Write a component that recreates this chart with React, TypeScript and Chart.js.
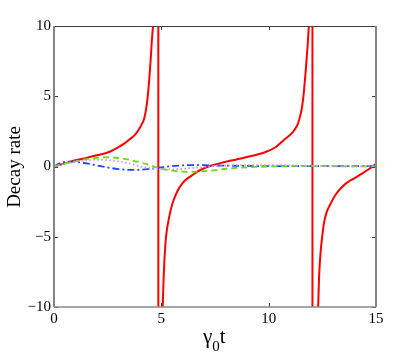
import React, { useEffect, useRef } from "react";
import { Chart, registerables } from "chart.js";

Chart.register(...registerables);

// ---- data ----
const xTickValues = [0, 5, 10, 15];
const yTickValues = [-10, -5, 0, 5, 10];

const redT = [0, 0.5, 1.0, 1.5, 2.0, 2.5, 3.0, 3.3, 3.5, 3.8, 4.0, 4.1, 4.2, 4.33, 4.41, 4.49, 4.56, 4.64, 4.72, 4.86, 4.86, 5.0, 5.06, 5.11, 5.19, 5.26, 5.34, 5.45, 5.57, 5.72, 5.89, 6.1, 6.36, 6.6, 6.82, 7.3, 7.9, 8.5, 9.2, 9.8, 10.3, 10.72, 11.0, 11.2, 11.35, 11.46, 11.55, 11.62, 11.73, 11.81, 11.88, 11.95, 12.04, 12.04, 12.2, 12.3, 12.35, 12.43, 12.5, 12.58, 12.7, 12.9, 13.1, 13.36, 13.65, 13.99, 14.3, 14.61, 15];
const redRate = [0, 0.22, 0.44, 0.61, 0.8, 1.0, 1.38, 1.66, 1.9, 2.3, 2.75, 3.05, 3.4, 4.5, 5.7, 7.3, 9.0, 10.5, 14, 60, -60, -14, -10.3, -7.8, -5.5, -4.5, -3.8, -3.0, -2.4, -1.85, -1.4, -1.0, -0.7, -0.45, -0.25, 0.05, 0.3, 0.5, 0.75, 1.0, 1.35, 1.9, 2.25, 2.6, 3.0, 3.55, 4.2, 5.0, 6.9, 8.5, 10.2, 14, 60, -60, -14, -10.2, -7.8, -5.9, -4.9, -4.0, -3.25, -2.6, -2.05, -1.55, -1.15, -0.84, -0.55, -0.25, 0.2];

const greenT = [0, 0.5, 1, 1.5, 2, 2.5, 3, 3.5, 4, 4.5, 5, 5.5, 6, 6.5, 7, 7.5, 8, 8.5, 9, 10, 11, 12, 13, 14, 15];
const greenRate = [0, 0.2, 0.36, 0.52, 0.62, 0.66, 0.6, 0.48, 0.3, 0.08, -0.17, -0.3, -0.36, -0.38, -0.33, -0.26, -0.16, -0.1, -0.06, 0, 0.02, 0.03, 0.02, 0.01, 0];

const blueT = [0, 0.3, 0.6, 0.9, 1.2, 1.6, 2, 2.5, 3, 3.5, 4, 4.5, 5, 5.5, 6, 6.5, 7, 8, 9, 10, 11, 12, 13, 14, 15];
const blueRate = [0, 0.25, 0.34, 0.35, 0.3, 0.2, 0.08, -0.07, -0.18, -0.24, -0.23, -0.16, -0.06, 0.03, 0.08, 0.1, 0.09, 0.06, 0.04, 0.03, 0.03, 0.03, 0.02, 0.02, 0.02];

const violetT = [0, 0.5, 1, 1.5, 2, 2.5, 3, 3.5, 4, 4.5, 5, 5.5, 6, 6.5, 7, 7.5, 8, 9, 10, 11, 12, 13, 14, 15];
const violetRate = [0, 0.2, 0.36, 0.44, 0.47, 0.45, 0.36, 0.22, 0.02, -0.14, -0.2, -0.2, -0.16, -0.1, -0.03, 0.03, 0.07, 0.1, 0.1, 0.08, 0.04, 0.02, 0.01, 0.01];

const xTitleMain = "γ";
const xTitleSub = "0";
const xTitleEnd = "t";
const yTitle = "Decay rate";

const SERIF = '"Liberation Serif", "Times New Roman", Times, serif';

const pts = (xs: number[], ys: number[]) => xs.map((x, i) => ({ x, y: ys[i] }));

const framePlugin = {
  id: "frame",
  afterDatasetsDraw(chart: any) {
    const { ctx, chartArea, scales } = chart;
    const { left, right, top, bottom } = chartArea;
    const xs = scales.x;
    const ys = scales.y;
    ctx.save();
    // inward ticks
    ctx.strokeStyle = "#404040";
    ctx.lineWidth = 1;
    ctx.beginPath();
    xTickValues.forEach((v) => {
      const px = Math.round(xs.getPixelForValue(v)) + 0.5;
      ctx.moveTo(px, bottom);
      ctx.lineTo(px, bottom - 4);
      ctx.moveTo(px, top);
      ctx.lineTo(px, top + 4);
    });
    yTickValues.forEach((v) => {
      const py = Math.round(ys.getPixelForValue(v)) + 0.5;
      ctx.moveTo(left, py);
      ctx.lineTo(left + 4, py);
      ctx.moveTo(right, py);
      ctx.lineTo(right - 4, py);
    });
    ctx.stroke();
    // box
    ctx.strokeStyle = "#404040";
    ctx.lineWidth = 1;
    ctx.beginPath();
    ctx.moveTo(left, top + 0.5);
    ctx.lineTo(right, top + 0.5);
    ctx.stroke();
    ctx.strokeStyle = "#858585";
    ctx.lineWidth = 2;
    ctx.beginPath();
    ctx.moveTo(left, top);
    ctx.lineTo(left, bottom);
    ctx.moveTo(right, top);
    ctx.lineTo(right, bottom);
    ctx.stroke();
    ctx.lineWidth = 1.5;
    ctx.strokeStyle = "#8a8a8a";
    ctx.beginPath();
    ctx.moveTo(left, bottom);
    ctx.lineTo(right, bottom);
    ctx.stroke();

    // titles
    ctx.fillStyle = "#000";
    ctx.textBaseline = "alphabetic";
    ctx.textAlign = "left";
    ctx.font = `21px ${SERIF}`;
    const gx = 203;
    const base = 343;
    ctx.fillText(xTitleMain, gx, base);
    const gw = ctx.measureText(xTitleMain).width;
    ctx.font = `15px ${SERIF}`;
    ctx.fillText(xTitleSub, gx + gw, base + 8);
    const sw = ctx.measureText(xTitleSub).width;
    ctx.font = `21px ${SERIF}`;
    ctx.fillText(xTitleEnd, gx + gw + sw, base);

    ctx.translate(15, 167);
    ctx.rotate(-Math.PI / 2);
    ctx.font = `19px ${SERIF}`;
    ctx.textAlign = "center";
    ctx.textBaseline = "middle";
    ctx.fillText(yTitle, 0, 0);
    ctx.restore();
  },
};

export default function App() {
  const ref = useRef<HTMLCanvasElement | null>(null);
  useEffect(() => {
    if (!ref.current) return;
    const chart = new Chart(ref.current, {
      type: "line",
      data: {
        datasets: [
          {
            label: "dotted",
            data: pts(violetT, violetRate),
            borderColor: "#d48ef0",
            borderWidth: 1.8,
            borderDash: [1.5, 2.5],
            pointRadius: 0,
            cubicInterpolationMode: "monotone",
          },
          {
            label: "dashed",
            data: pts(greenT, greenRate),
            borderColor: "#66dd11",
            borderWidth: 1.8,
            borderDash: [6, 4],
            pointRadius: 0,
            cubicInterpolationMode: "monotone",
          },
          {
            label: "dashdot",
            data: pts(blueT, blueRate),
            borderColor: "#2046ff",
            borderWidth: 1.8,
            borderDash: [7, 3, 2, 3],
            pointRadius: 0,
            cubicInterpolationMode: "monotone",
          },
          {
            label: "solid",
            data: pts(redT, redRate),
            borderColor: "#ff0000",
            borderWidth: 2,
            pointRadius: 0,
            cubicInterpolationMode: "monotone",
          },
        ],
      },
      options: {
        responsive: false,
        animation: false,
        devicePixelRatio: 1,
        layout: { padding: { top: 26, right: 39, left: 0, bottom: 0 } },
        plugins: { legend: { display: false }, tooltip: { enabled: false } },
        scales: {
          x: {
            type: "linear",
            min: 0,
            max: 15,
            afterBuildTicks: (s: any) => {
              s.ticks = xTickValues.map((v) => ({ value: v }));
            },
            afterFit: (s: any) => {
              s.height = 49;
            },
            grid: { display: false, drawTicks: false },
            border: { display: false },
            ticks: {
              padding: 3,
              color: "#000",
              font: { family: SERIF, size: 15 },
              maxRotation: 0,
              callback: (v: any) => String(v).replace("-", "−"),
            },
          },
          y: {
            type: "linear",
            min: -10,
            max: 10,
            afterBuildTicks: (s: any) => {
              s.ticks = yTickValues.map((v) => ({ value: v }));
            },
            afterFit: (s: any) => {
              s.width = 54;
            },
            grid: { display: false, drawTicks: false },
            border: { display: false },
            ticks: {
              padding: 3,
              color: "#000",
              font: { family: SERIF, size: 15 },
              callback: (v: any) => String(v).replace("-", "−"),
            },
          },
        },
      },
      plugins: [framePlugin],
    } as any);
    return () => chart.destroy();
  }, []);
  return (
    <div style={{ position: "fixed", left: 0, top: 0, width: 415, height: 356, background: "#fff" }}>
      <canvas ref={ref} width={415} height={356} />
    </div>
  );
}
